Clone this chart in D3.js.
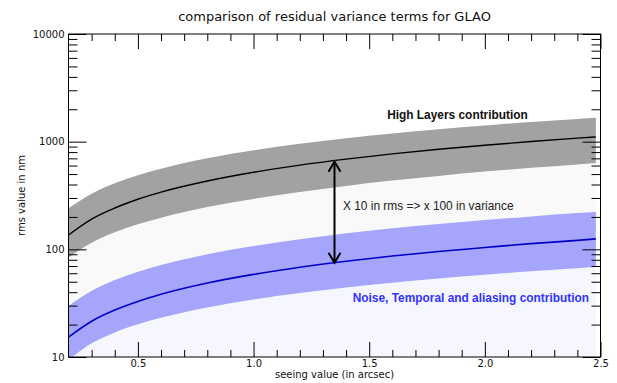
<!DOCTYPE html>
<html>
<head>
<meta charset="utf-8">
<script src="https://cdn.jsdelivr.net/npm/d3@7"></script>
<style>
  html, body { margin: 0; padding: 0; background: #fff; }
  svg { display: block; }
  .tick text { font-family: "DejaVu Sans", sans-serif; font-size: 10px; fill: #111; }
</style>
</head>
<body>
<svg id="chart" width="617" height="383"></svg>
<script>
// Seeing values (arcsec) at which the residual terms are sampled
const seeing = [0.2, 0.3, 0.4, 0.5, 0.6, 0.8, 1.0, 1.2, 1.4, 1.6, 1.8, 2.0, 2.2, 2.4, 2.48];

// High layers contribution (rms, nm): nominal curve and spread
const highMid   = [136, 191, 242, 292, 340, 431, 520, 605, 688, 770, 849, 927, 1003, 1078, 1108];
const highUpper = [241, 329, 411, 488, 561, 700, 831, 956, 1077, 1193, 1306, 1416, 1523, 1627, 1667];
const highLower = [84, 115, 144, 171, 197, 247, 294, 341, 388, 435, 481, 527, 571, 614, 632];

// Noise, temporal and aliasing contribution (rms, nm)
const noiseMid   = [15.3, 21.5, 27.3, 32.8, 38.2, 48.6, 58.5, 68.1, 77.5, 86.6, 95.5, 104, 113, 121, 125];
const noiseUpper = [29.8, 41.2, 51.8, 61.9, 71.6, 90.1, 107.5, 124, 141, 157, 172, 187, 202, 217, 222];
const noiseLower = [9.4, 13.4, 16.9, 20.1, 23.1, 28.8, 34.2, 39.3, 44.2, 49.0, 53.6, 58.1, 62.5, 66.8, 68.5];

// Ratio arrow between the two nominal curves
const arrowSeeing = 1.35;
const arrowTop = 665;
const arrowBottom = 73.5;

// Axis ticks
const xMajorTicks = [0.5, 1.0, 1.5, 2.0, 2.5];
const xTickLabels = ["0.5", "1.0", "1.5", "2.0", "2.5"];
const yMajorTicks = [10, 100, 1000, 10000];
const yTickLabels = ["10", "100", "1000", "10000"];

const svg = d3.select("#chart");
const L = 68.5, R = 600.5, T = 34, B = 357;

const x = d3.scaleLinear().domain([0.2, 2.5]).range([L, R]);
const y = d3.scaleLog().domain([10, 10000]).range([B, T]);

const xMinorTicks = d3.range(3, 25).map(d => d / 10).filter(v => !xMajorTicks.some(m => Math.abs(m - v) < 1e-9));
const yMinorTicks = y.ticks().filter(v => !yMajorTicks.includes(v));

svg.append("defs").append("clipPath").attr("id", "plotClip")
  .append("rect").attr("x", L).attr("y", T).attr("width", R - L).attr("height", B - T);

const plot = svg.append("g").attr("clip-path", "url(#plotClip)");

const rows = (lo, hi) => seeing.map((s, i) => ({ s, lo: lo[i], hi: hi[i] }));
const area = d3.area().x(d => x(d.s)).y0(d => y(d.lo)).y1(d => y(d.hi)).curve(d3.curveMonotoneX);
const line = d3.line().x(d => x(d.s)).y(d => y(d.v)).curve(d3.curveMonotoneX);

// faint shading left by the band fills
plot.append("path")
  .datum(seeing.map((s, i) => ({ s, lo: noiseUpper[i], hi: highLower[i] })))
  .attr("d", area).attr("fill", "#000").attr("fill-opacity", 0.025);
plot.append("path")
  .datum(seeing.map((s, i) => ({ s, lo: 5, hi: noiseLower[i] })))
  .attr("d", area).attr("fill", "#3030ff").attr("fill-opacity", 0.045);

// bands
plot.append("path").datum(rows(highLower, highUpper))
  .attr("d", area).attr("fill", "#a2a2a2");
plot.append("path").datum(rows(noiseLower, noiseUpper))
  .attr("d", area).attr("fill", "#a5a5fc");

// nominal curves
plot.append("path").datum(seeing.map((s, i) => ({ s, v: highMid[i] })))
  .attr("d", line).attr("fill", "none").attr("stroke", "#000").attr("stroke-width", 1.4);
plot.append("path").datum(seeing.map((s, i) => ({ s, v: noiseMid[i] })))
  .attr("d", line).attr("fill", "none").attr("stroke", "#0000c8").attr("stroke-width", 1.6);

// double-headed arrow
const ax = x(arrowSeeing), ay1 = y(arrowTop), ay2 = y(arrowBottom);
const arrow = svg.append("g").attr("fill", "none").attr("stroke", "#000").attr("stroke-width", 2)
  .attr("stroke-linejoin", "miter");
arrow.append("line").attr("x1", ax).attr("x2", ax).attr("y1", ay1 + 1).attr("y2", ay2 - 1);
arrow.append("path").attr("d", `M${ax - 6},${ay1 + 11} L${ax},${ay1 + 1} L${ax + 6},${ay1 + 11}`);
arrow.append("path").attr("d", `M${ax - 6},${ay2 - 11} L${ax},${ay2 - 1} L${ax + 6},${ay2 - 11}`);

// annotations
svg.append("text").attr("x", 343).attr("y", 210)
  .attr("font-family", "Liberation Sans, Arial, sans-serif").attr("font-size", 11.9).attr("fill", "#222")
  .text("X 10 in rms => x 100 in variance");
svg.append("text").attr("x", 457.5).attr("y", 119).attr("text-anchor", "middle")
  .attr("font-family", "Liberation Sans, Arial, sans-serif").attr("font-size", 11.9).attr("font-weight", "bold")
  .attr("fill", "#111").text("High Layers contribution");
svg.append("text").attr("x", 589).attr("y", 302).attr("text-anchor", "end")
  .attr("font-family", "Liberation Sans, Arial, sans-serif").attr("font-size", 11.9).attr("font-weight", "bold")
  .attr("fill", "#3333ff").text("Noise, Temporal and aliasing contribution");

// axes with inward ticks
function addAxis(gen, tx, ty, values, size, labels) {
  const g = svg.append("g").attr("transform", `translate(${tx},${ty})`)
    .call(gen.tickValues(values).tickSizeInner(-size).tickSizeOuter(0)
      .tickPadding(0)
      .tickFormat(labels ? ((d, i) => labels[i]) : ""));
  g.select(".domain").remove();
  g.selectAll(".tick line").attr("stroke", "#000").attr("stroke-width", 1);
  return g;
}
const gb = addAxis(d3.axisBottom(x), 0, B, xMajorTicks, 15, xTickLabels);
gb.selectAll(".tick text").attr("dy", null).attr("y", 10);
addAxis(d3.axisBottom(x), 0, B, xMinorTicks, 7, null);
addAxis(d3.axisTop(x), 0, T, xMajorTicks, 15, null);
addAxis(d3.axisTop(x), 0, T, xMinorTicks, 7, null);
const gl = addAxis(d3.axisLeft(y), L, 0, yMajorTicks, 18, yTickLabels);
gl.selectAll(".tick text").attr("x", -4);
addAxis(d3.axisLeft(y), L, 0, yMinorTicks, 9, null);
addAxis(d3.axisRight(y), R, 0, yMajorTicks, 18, null);
addAxis(d3.axisRight(y), R, 0, yMinorTicks, 9, null);

// frame
svg.append("rect").attr("x", L).attr("y", T).attr("width", R - L).attr("height", B - T)
  .attr("fill", "none").attr("stroke", "#000").attr("stroke-width", 1);

// titles
svg.append("text").attr("x", (L + R) / 2).attr("y", 21).attr("text-anchor", "middle")
  .attr("font-family", "DejaVu Sans, sans-serif").attr("font-size", 13).attr("fill", "#111")
  .text("comparison of residual variance terms for GLAO");
svg.append("text").attr("x", (L + R) / 2).attr("y", 378).attr("text-anchor", "middle")
  .attr("font-family", "DejaVu Sans, sans-serif").attr("font-size", 10).attr("fill", "#111")
  .text("seeing value (in arcsec)");
svg.append("text").attr("transform", `translate(25,${(T + B) / 2}) rotate(-90)`).attr("text-anchor", "middle")
  .attr("font-family", "DejaVu Sans, sans-serif").attr("font-size", 10).attr("fill", "#111")
  .text("rms value in nm");
</script>
</body>
</html>
